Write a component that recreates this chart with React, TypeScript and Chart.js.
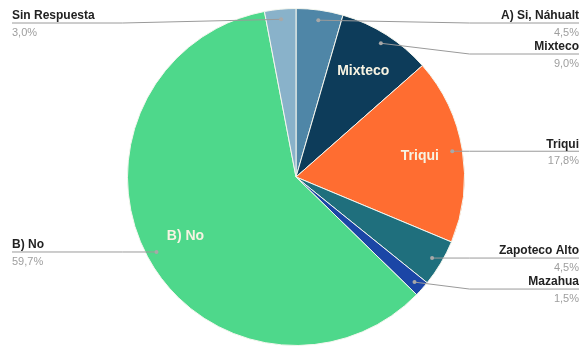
import React, { useEffect, useRef } from "react";
import { Chart, registerables } from "chart.js";

Chart.register(...registerables);

const categories = [
  "A) Si, Náhualt",
  "Mixteco",
  "Triqui",
  "Zapoteco Alto",
  "Mazahua",
  "B) No",
  "Sin Respuesta",
];
const values = [4.5, 9.0, 17.8, 4.5, 1.5, 59.7, 3.0];
const colors = [
  "#4f86a7",
  "#0d3c5a",
  "#ff6d31",
  "#1f6f7d",
  "#1b46a6",
  "#4ed88b",
  "#89b2ca",
];

const FONT = '"Liberation Sans", Arial, sans-serif';

const labelPlugin = {
  id: "pieLabels",
  afterDatasetsDraw(chart: any) {
    const ctx = chart.ctx as CanvasRenderingContext2D;
    const meta = chart.getDatasetMeta(0);
    const total = values.reduce((a, b) => a + b, 0);
    const W = chart.width;
    const items: any[] = [];
    meta.data.forEach((arc: any, i: number) => {
      const { x, y, startAngle, endAngle, outerRadius } = arc.getProps(
        ["x", "y", "startAngle", "endAngle", "outerRadius"],
        true
      );
      const mid = (startAngle + endAngle) / 2;
      const ax = x + Math.cos(mid) * outerRadius * 0.94;
      const ay = y + Math.sin(mid) * outerRadius * 0.94;
      const pct = (values[i] / total) * 100;
      items.push({
        i,
        x,
        y,
        mid,
        R: outerRadius,
        ax,
        ay,
        pct,
        right: Math.cos(mid) >= 0,
      });
    });

    // inside labels
    ctx.save();
    ctx.font = `bold 14px ${FONT}`;
    ctx.fillStyle = "#f7f3e2";
    ctx.textAlign = "center";
    ctx.textBaseline = "middle";
    items.forEach((it) => {
      if (it.pct >= 8.5) {
        const r = it.R * 0.745;
        ctx.fillText(
          categories[it.i],
          it.x + Math.cos(it.mid) * r,
          it.y + Math.sin(it.mid) * r
        );
      }
    });
    ctx.restore();

    // outside labels
    [true, false].forEach((side) => {
      const list = items
        .filter((it) => it.right === side)
        .sort((a, b) => a.ay - b.ay);
      let prev = -Infinity;
      list.forEach((it) => {
        const ly = Math.max(it.ay, prev + 31, 23);
        it.ly = ly;
        prev = ly;
      });
      list.forEach((it) => {
        const elbowX = side ? it.x + it.R + 5 : it.x - it.R - 5;
        const edgeX = side ? W - 2 : 12;
        ctx.save();
        ctx.strokeStyle = "#9a9a9a";
        ctx.lineWidth = 1;
        ctx.beginPath();
        ctx.moveTo(it.ax, it.ay);
        ctx.lineTo(elbowX, it.ly);
        ctx.lineTo(edgeX, it.ly);
        ctx.stroke();
        ctx.fillStyle = "#a8a8a8";
        ctx.beginPath();
        ctx.arc(it.ax, it.ay, 2, 0, Math.PI * 2);
        ctx.fill();
        ctx.textAlign = side ? "right" : "left";
        ctx.textBaseline = "middle";
        ctx.font = `bold 12px ${FONT}`;
        ctx.fillStyle = "#222222";
        ctx.fillText(categories[it.i], edgeX, it.ly - 7);
        ctx.font = `11px ${FONT}`;
        ctx.fillStyle = "#9e9e9e";
        ctx.fillText(it.pct.toFixed(1).replace(".", ",") + "%", edgeX, it.ly + 10);
        ctx.restore();
      });
    });
  },
};

export default function App() {
  const ref = useRef<HTMLCanvasElement | null>(null);
  useEffect(() => {
    document.body.style.margin = "0";
    const chart = new Chart(ref.current as HTMLCanvasElement, {
      type: "pie",
      data: {
        labels: categories,
        datasets: [
          {
            data: values,
            backgroundColor: colors,
            borderColor: "#f4f6ee",
            borderWidth: 1,
          },
        ],
      },
      options: {
        responsive: false,
        animation: false,
        layout: { padding: { top: 8, bottom: 3, left: 127, right: 116 } },
        plugins: {
          legend: { display: false },
          tooltip: { enabled: false },
        },
      },
      plugins: [labelPlugin],
    });
    return () => chart.destroy();
  }, []);
  return (
    <div style={{ width: 581, height: 349, background: "#fff" }}>
      <canvas ref={ref} width={581} height={349} />
    </div>
  );
}
